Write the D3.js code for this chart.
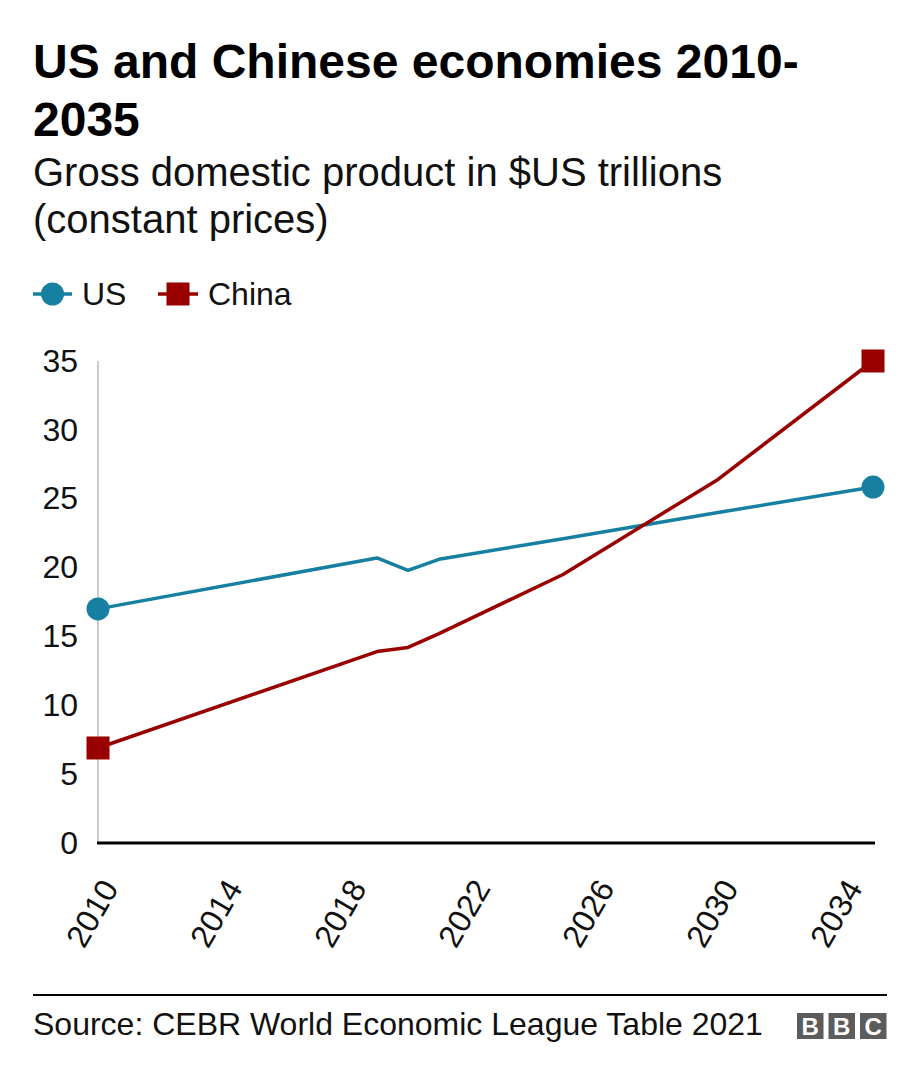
<!DOCTYPE html>
<html>
<head>
<meta charset="utf-8">
<script src="https://cdn.jsdelivr.net/npm/d3@7"></script>
<style>
  html, body { margin: 0; padding: 0; background: #fff; }
  svg text { font-family: "Liberation Sans", Arial, Helvetica, sans-serif; }
</style>
</head>
<body>
<svg id="chart" width="920" height="1082"></svg>
<script>
const titleLines = ["US and Chinese economies 2010-", "2035"];
const subtitleLines = ["Gross domestic product in $US trillions", "(constant prices)"];
const sourceText = "Source: CEBR World Economic League Table 2021";
const seriesNames = ["US", "China"];
const seriesColors = ["#1780a1", "#990000"];
const years = [2010, 2019, 2020, 2021, 2025, 2030, 2035];
const usGdp = [17.0, 20.7, 19.8, 20.6, 22.1, 24.0, 25.85];
const chinaGdp = [6.9, 13.9, 14.2, 15.2, 19.5, 26.4, 35.0];
const xTicks = [2010, 2014, 2018, 2022, 2026, 2030, 2034];
const yTicks = [0, 5, 10, 15, 20, 25, 30, 35];

const svg = d3.select("#chart");

// Title & subtitle
const t = svg.append("text").attr("x", 33).attr("font-size", 48).attr("font-weight", "bold").attr("fill", "#000");
t.selectAll("tspan").data(titleLines).join("tspan")
  .attr("x", 33).attr("y", (d, i) => 78 + i * 58).text(d => d);
const st = svg.append("text").attr("font-size", 40).attr("fill", "#111");
st.selectAll("tspan").data(subtitleLines).join("tspan")
  .attr("x", 33).attr("y", (d, i) => 186 + i * 47).text(d => d);

// Scales
const x = d3.scaleLinear().domain([2010, 2035]).range([98, 873]);
const y = d3.scaleLinear().domain([0, 35]).range([843, 361]);

// Y axis line (grey)
svg.append("line").attr("x1", x(2010)).attr("x2", x(2010))
  .attr("y1", y(35)).attr("y2", y(0)).attr("stroke", "#cccccc").attr("stroke-width", 2);

// Y axis labels
const yAxis = d3.axisLeft(y).tickValues(yTicks).tickSize(0).tickPadding(0);
const gy = svg.append("g").attr("transform", "translate(78,0)").call(yAxis);
gy.select(".domain").remove();
gy.selectAll("text").attr("font-size", 32).attr("fill", "#111")
  .attr("font-family", "'Liberation Sans', Arial, sans-serif");

// X axis labels
const xAxis = d3.axisBottom(x).tickValues(xTicks).tickFormat(d3.format("d")).tickSize(0);
const gx = svg.append("g").attr("transform", `translate(0,${y(0)})`).call(xAxis);
gx.select(".domain").remove();
gx.selectAll("text")
  .attr("font-size", 32).attr("fill", "#111")
  .attr("font-family", "'Liberation Sans', Arial, sans-serif")
  .attr("text-anchor", "end")
  .attr("dy", 0).attr("y", 0)
  .attr("transform", "translate(21,45) rotate(-60)");

// Zero baseline
svg.append("line").attr("x1", x(2010) - 1).attr("x2", x(2035) + 2)
  .attr("y1", y(0)).attr("y2", y(0)).attr("stroke", "#000").attr("stroke-width", 3);

// Lines
const series = [usGdp, chinaGdp];
const line = d3.line().x((d, i) => x(years[i])).y(d => y(d));
series.forEach((vals, si) => {
  svg.append("path").datum(vals).attr("d", line)
    .attr("fill", "none").attr("stroke", seriesColors[si])
    .attr("stroke-width", 3.5).attr("stroke-linejoin", "round");
});

// End markers
const endIdx = [0, years.length - 1];
endIdx.forEach(i => {
  svg.append("circle").attr("cx", x(years[i])).attr("cy", y(usGdp[i]))
    .attr("r", 11.5).attr("fill", seriesColors[0]);
  svg.append("rect").attr("x", x(years[i]) - 11.5).attr("y", y(chinaGdp[i]) - 11.5)
    .attr("width", 23).attr("height", 23).attr("fill", seriesColors[1]);
});

// Legend
const legY = 294;
svg.append("line").attr("x1", 33).attr("x2", 72).attr("y1", legY).attr("y2", legY)
  .attr("stroke", seriesColors[0]).attr("stroke-width", 3.5);
svg.append("circle").attr("cx", 52.5).attr("cy", legY).attr("r", 11.5).attr("fill", seriesColors[0]);
svg.append("text").attr("x", 82).attr("y", legY).attr("dy", "0.35em")
  .attr("font-size", 32).attr("fill", "#111").text(seriesNames[0]);
svg.append("line").attr("x1", 158).attr("x2", 198).attr("y1", legY).attr("y2", legY)
  .attr("stroke", seriesColors[1]).attr("stroke-width", 3.5);
svg.append("rect").attr("x", 166.5).attr("y", legY - 11.5).attr("width", 23).attr("height", 23)
  .attr("fill", seriesColors[1]);
svg.append("text").attr("x", 208).attr("y", legY).attr("dy", "0.35em")
  .attr("font-size", 32).attr("fill", "#111").text(seriesNames[1]);

// Footer
svg.append("line").attr("x1", 33).attr("x2", 887).attr("y1", 995).attr("y2", 995)
  .attr("stroke", "#000").attr("stroke-width", 2);
svg.append("text").attr("x", 33).attr("y", 1035).attr("font-size", 32).attr("fill", "#111")
  .text(sourceText);

// BBC logo
const logoLetters = ["B", "B", "C"];
const lg = svg.append("g");
logoLetters.forEach((L, i) => {
  const bx = 797 + i * 31.5;
  lg.append("rect").attr("x", bx).attr("y", 1013).attr("width", 26.5).attr("height", 26)
    .attr("fill", "#5c5c5c");
  lg.append("text").attr("x", bx + 13.25).attr("y", 1035).attr("text-anchor", "middle")
    .attr("font-size", 24).attr("font-weight", "bold").attr("fill", "#fff").text(L);
});
</script>
</body>
</html>
